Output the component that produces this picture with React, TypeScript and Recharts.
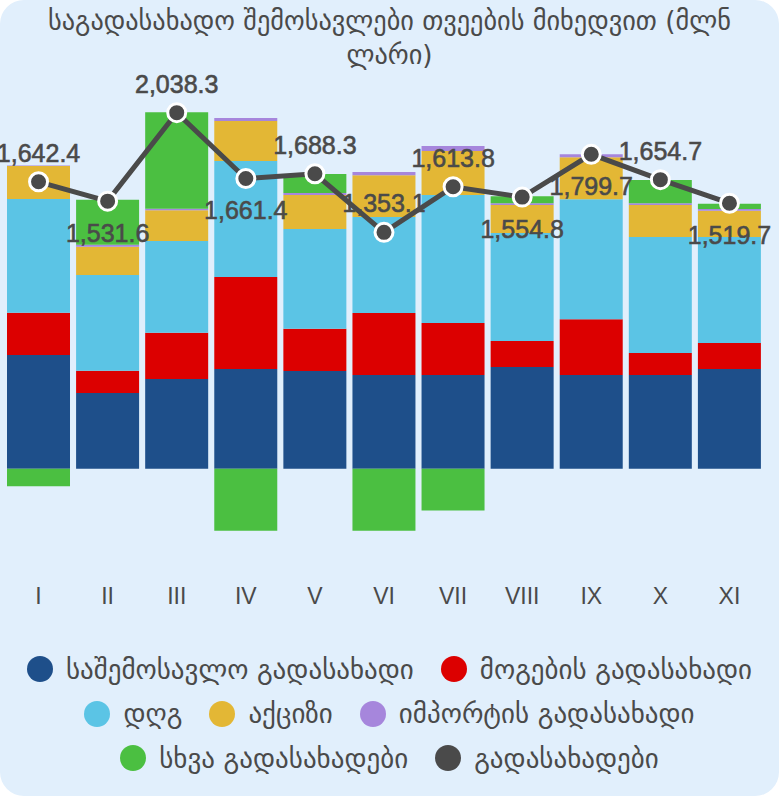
import React from 'react';
import {
  Bar,
  ComposedChart,
  LabelList,
  Line,
  XAxis,
  YAxis,
} from 'recharts';

const months = ['I', 'II', 'III', 'IV', 'V', 'VI', 'VII', 'VIII', 'IX', 'X', 'XI'];
const incomeTax = [651, 433, 513, 571, 559, 536, 536, 582, 536, 536, 571];
const profitTax = [242, 128, 265, 527, 242, 355, 298, 149, 320, 126, 149];
const vat = [651, 548, 525, 664, 571, 550, 733, 618, 687, 664, 607];
const excise = [189, 162, 176, 229, 195, 239, 252, 160, 240, 183, 149];
const importTax = [3, 11, 9, 17, 11, 19, 29, 11, 17, 11, 11];
const otherTaxes = [-100, 258, 553, -355, 109, -355, -240, 40, 0, 132, 29];
const totalTaxes = [1642.4, 1531.6, 2038.3, 1661.4, 1688.3, 1353.1, 1613.8, 1554.8, 1799.7, 1654.7, 1519.7];

const data = months.map((month, i) => ({
  month,
  incomeTax: incomeTax[i],
  profitTax: profitTax[i],
  vat: vat[i],
  excise: excise[i],
  importTax: importTax[i],
  otherTaxes: otherTaxes[i],
  totalTaxes: totalTaxes[i],
}));

const series = [
  { key: 'incomeTax', name: 'საშემოსავლო გადასახადი', color: '#1e4f8a' },
  { key: 'profitTax', name: 'მოგების გადასახადი', color: '#dc0000' },
  { key: 'vat', name: 'დღგ', color: '#5bc4e5' },
  { key: 'excise', name: 'აქციზი', color: '#e3b735' },
  { key: 'importTax', name: 'იმპორტის გადასახადი', color: '#a686dc' },
  { key: 'otherTaxes', name: 'სხვა გადასახადები', color: '#4bbf41' },
];
const lineColor = '#4a4a4a';
const legendRows = [
  [series[0], series[1]],
  [series[2], series[3], series[4]],
  [series[5], { key: 'totalTaxes', name: 'გადასახადები', color: lineColor }],
];

// months whose value label sits under the point
const labelsBelow = new Set([1, 3, 7, 8, 10]);

const geo = '"DejaVu Sans", sans-serif';
const latin = '"Liberation Sans", Arial, sans-serif';

function PointLabel(props: any) {
  const { x, y, value, index } = props;
  const below = labelsBelow.has(index);
  return (
    <text
      x={x}
      y={below ? y + 32 : y - 29}
      textAnchor="middle"
      dominantBaseline="central"
      fontFamily={latin}
      fontSize={25}
      fill={lineColor}
      stroke={lineColor}
      strokeWidth={0.6}
    >
      {Number(value).toLocaleString('en-US', { minimumFractionDigits: 1 })}
    </text>
  );
}

export default function App() {
  return (
    <div
      style={{
        position: 'relative',
        width: 779,
        height: 796,
        background: '#e1effc',
        borderRadius: 24,
        overflow: 'hidden',
      }}
    >
      <style>{'body{margin:0}'}</style>
      <div
        style={{
          position: 'absolute',
          top: 4,
          left: 0,
          width: 779,
          textAlign: 'center',
          fontFamily: geo,
          fontSize: 26.3,
          lineHeight: '34px',
          color: lineColor,
        }}
      >
        საგადასახადო შემოსავლები თვეების მიხედვით (მლნ
        <br />
        ლარი)
      </div>
      <div style={{ position: 'absolute', top: 0, left: 0 }}>
        <ComposedChart
          width={779}
          height={620}
          data={data}
          stackOffset="sign"
          barCategoryGap={3}
          margin={{ top: 32, right: 15, left: 4, bottom: 34 }}
        >
          <XAxis
            dataKey="month"
            axisLine={false}
            tickLine={false}
            tickSize={0}
            tickMargin={32}
            interval={0}
            tick={{ fill: lineColor, fontSize: 23, fontFamily: latin }}
          />
          <YAxis hide domain={[-500, 2500]} allowDataOverflow />
          {series.map((s) => (
            <Bar
              key={s.key}
              dataKey={s.key}
              name={s.name}
              stackId="taxes"
              fill={s.color}
              isAnimationActive={false}
            />
          ))}
          <Line
            dataKey="totalTaxes"
            name="გადასახადები"
            stroke={lineColor}
            strokeWidth={5}
            dot={{ r: 9, fill: lineColor, stroke: '#fff', strokeWidth: 3 }}
            isAnimationActive={false}
          >
            <LabelList dataKey="totalTaxes" content={<PointLabel />} />
          </Line>
        </ComposedChart>
      </div>
      <div
        style={{
          position: 'absolute',
          top: 647,
          left: 0,
          width: 779,
          fontFamily: geo,
          fontSize: 27,
          color: lineColor,
        }}
      >
        {legendRows.map((row, r) => (
          <div
            key={r}
            style={{
              display: 'flex',
              justifyContent: 'center',
              alignItems: 'center',
              height: 44.5,
              gap: 27,
            }}
          >
            {row.map((item) => (
              <div key={item.key} style={{ display: 'flex', alignItems: 'center', gap: 13 }}>
                <span
                  style={{
                    width: 26,
                    height: 26,
                    borderRadius: '50%',
                    background: item.color,
                    display: 'inline-block',
                  }}
                />
                <span>{item.name}</span>
              </div>
            ))}
          </div>
        ))}
      </div>
    </div>
  );
}
